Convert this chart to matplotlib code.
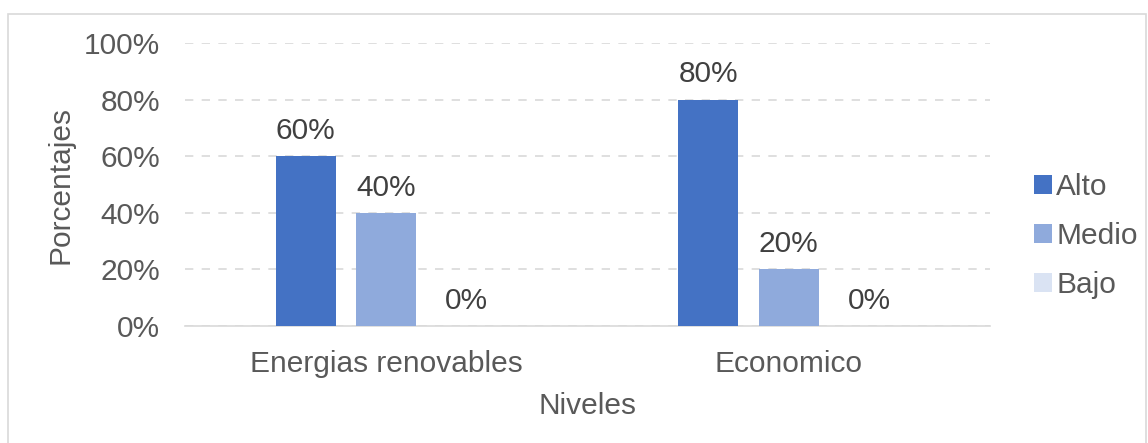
import matplotlib.pyplot as plt
import numpy as np
from matplotlib.patches import Rectangle

categorias = ['Energias renovables', 'Economico']
series = ['Alto', 'Medio', 'Bajo']
alto = [0.60, 0.80]
medio = [0.40, 0.20]
bajo = [0.00, 0.00]
colores = ['#4472C4', '#8FAADC', '#DAE3F3']

plt.rcParams['font.family'] = ['Liberation Sans', 'DejaVu Sans']
fs = 21.5

fig = plt.figure(figsize=(11.48, 4.43), dpi=100)
ax = fig.add_axes([185/1148, 117/443, 805/1148, 283/443])

# marco exterior del grafico
fig.patches.append(Rectangle((8/1148, -0.1), 1138/1148, (443-14)/443 + 0.1,
                             transform=fig.transFigure, fill=False,
                             edgecolor='#D9D9D9', linewidth=1.2))

x = np.arange(len(categorias))
ancho = 0.15
pasos = [-0.2, 0, 0.2]
for vals, nombre, col, d in zip([alto, medio, bajo], series, colores, pasos):
    barras = ax.bar(x + d, vals, ancho, color=col, label=nombre, zorder=3)
    for b, v in zip(barras, vals):
        ax.annotate(f'{v*100:.0f}%', (b.get_x() + b.get_width()/2, v),
                    xytext=(0, 8), textcoords='offset points',
                    ha='center', va='bottom', fontsize=fs, color='#404040')

ax.set_xlim(-0.5, 1.5)
ax.set_ylim(0, 1)
ax.set_yticks(np.arange(0, 1.01, 0.2))
ax.set_yticklabels([f'{int(t*100)}%' for t in np.arange(0, 1.01, 0.2)])
ax.set_xticks(x)
ax.set_xticklabels(categorias)
ax.tick_params(axis='y', length=0, labelsize=fs, labelcolor='#595959', pad=18)
ax.tick_params(axis='x', length=0, labelsize=fs, labelcolor='#595959', pad=17)
ax.yaxis.grid(True, linestyle=(0, (5, 5)), color='#D9D9D9', linewidth=1.2, zorder=0)
for s in ['top', 'right', 'left']:
    ax.spines[s].set_visible(False)
ax.spines['bottom'].set_color('#D9D9D9')
ax.spines['bottom'].set_linewidth(1.2)

ax.set_ylabel('Porcentajes', fontsize=fs, color='#595959', labelpad=7)
ax.set_xlabel('Niveles', fontsize=fs, color='#595959', labelpad=10)

fig.legend(loc='center left', bbox_to_anchor=(1007/1148, (443-236)/443),
           frameon=False, fontsize=fs, labelcolor='#595959',
           handlelength=0.6, handleheight=0.6, handletextpad=0.15, labelspacing=0.7)

fig.savefig('out.png', dpi=100)
